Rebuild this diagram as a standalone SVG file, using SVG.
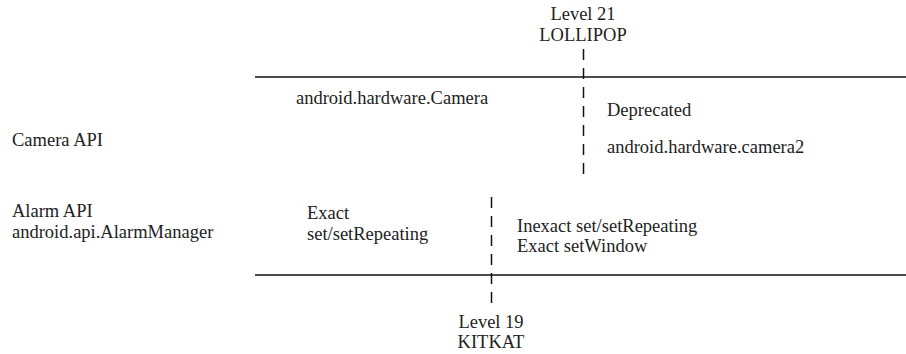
<svg xmlns="http://www.w3.org/2000/svg" width="906" height="354" viewBox="0 0 906 354">
  <style>
    .t { font-family: "Liberation Serif", "Times New Roman", Times, serif; font-size: 18.5px; fill: #222; }
    .c { text-anchor: middle; }
    .rule { stroke: #111; stroke-width: 1.5; fill: none; }
    .dash { stroke: #111; stroke-width: 1.5; stroke-dasharray: 11 8; fill: none; }
  </style>
  <rect width="906" height="354" fill="#fff"/>

  <g id="connectors">
    <line class="rule" x1="255" y1="77" x2="906" y2="77"/>
    <line class="rule" x1="255" y1="275" x2="906" y2="275"/>
    <line class="dash" x1="583.5" y1="49" x2="583.5" y2="180"/>
    <line class="dash" x1="491.5" y1="197" x2="491.5" y2="303"/>
  </g>

  <g id="lollipop">
    <text class="t c" x="583" y="20">Level 21</text>
    <text class="t c" x="583" y="41">LOLLIPOP</text>
  </g>

  <g id="kitkat">
    <text class="t c" x="491" y="328">Level 19</text>
    <text class="t c" x="491" y="348">KITKAT</text>
  </g>

  <g id="camera-api">
    <text class="t" x="12" y="146">Camera API</text>
  </g>

  <g id="alarm-api">
    <text class="t" x="12" y="217">Alarm API</text>
    <text class="t" x="12" y="238">android.api.AlarmManager</text>
  </g>

  <g id="camera-old">
    <text class="t" x="296" y="104">android.hardware.Camera</text>
  </g>

  <g id="camera-new">
    <text class="t" x="607" y="116">Deprecated</text>
    <text class="t" x="607" y="153">android.hardware.camera2</text>
  </g>

  <g id="alarm-old">
    <text class="t" x="307" y="219">Exact</text>
    <text class="t" x="307" y="240">set/setRepeating</text>
  </g>

  <g id="alarm-new">
    <text class="t" x="517" y="232">Inexact set/setRepeating</text>
    <text class="t" x="517" y="252">Exact setWindow</text>
  </g>
</svg>
